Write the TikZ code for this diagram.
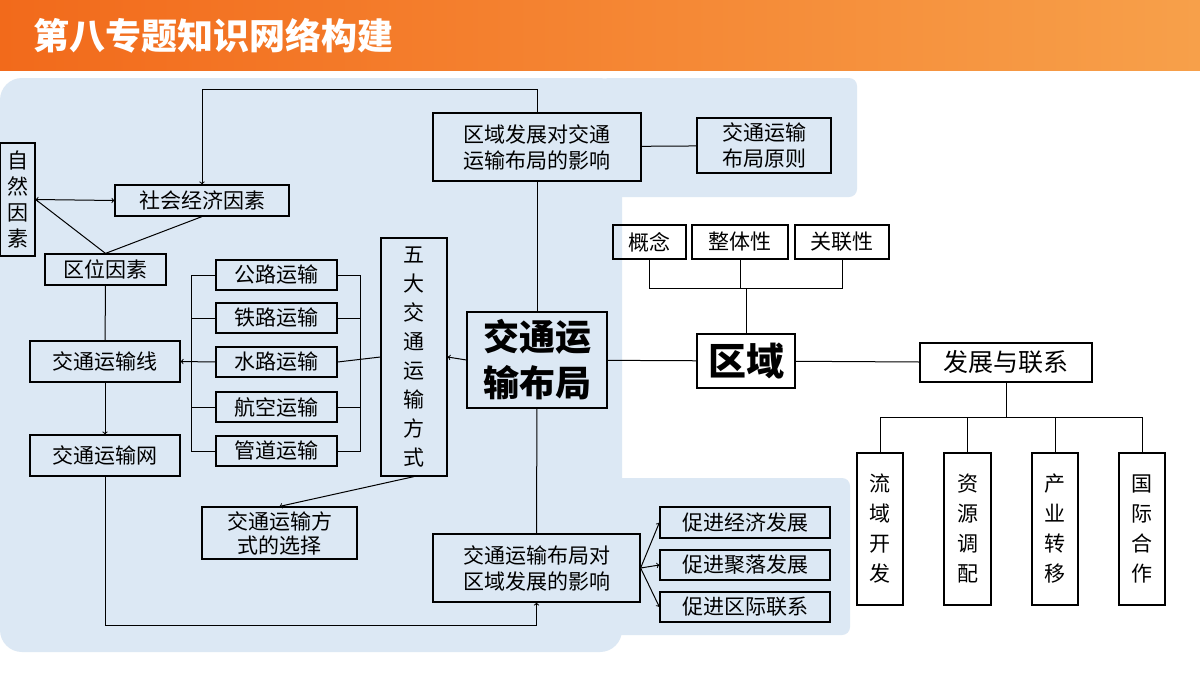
\documentclass[tikz,border=0pt]{standalone}
\usepackage{fontspec}
\setmainfont{Noto Sans CJK SC}
\usetikzlibrary{calc}
\tikzset{>=to}
\definecolor{panel}{HTML}{DCE8F4}
\definecolor{barL}{HTML}{F26A1B}
\definecolor{barR}{HTML}{F7A04A}
\tikzstyle{box} = [draw=black, line width=1.2, inner sep=0pt, align=center, font=\fontsize{21}{26}\selectfont]
\tikzstyle{link} = [line width=1, black]
\newcommand{\boxat}[6]{
\node[box, minimum width=#3, minimum height=#4] (#1) at (#2) {#5#6};
}

\begin{document}
\begin{tikzpicture}[x=1pt, y=-1pt]
		% Background
		\useasboundingbox (0,0) rectangle (1200,675);
		\fill[white] (0,0) rectangle (1200,675);
		\shade[left color=barL, right color=barR] (0,0) rectangle (1200,70);
		\node[anchor=west, text=white, font=\fontsize{36}{40}\selectfont\bfseries] (title) at (30,36) {第八专题知识网络构建};
		\fill[panel, rounded corners=22] (0,78) rectangle (622,652);
		\fill[panel, rounded corners=8] (600,78) rectangle (857,197);
		\fill[panel, rounded corners=8] (600,478) rectangle (850,635);
		
		% Boxes
		\boxat{infl}{537,147}{208}{68}{区域发展对交通\\}{运输布局的影响}
		\boxat{prin}{764,145.5}{134}{55}{交通运输\\}{布局原则}
		\boxat{nat}{17.5,199.5}{35}{113}{自\\然\\因\\}{素}
		\boxat{soc}{202,200.5}{174}{31}{社会经济因素}{}
		\boxat{loc}{105.5,269.5}{121}{31}{区位因素}{}
		\boxat{road}{276.5,275}{121}{30}{公路运输}{}
		\boxat{rail}{276.5,318}{121}{30}{铁路运输}{}
		\boxat{water}{276.5,362}{121}{30}{水路运输}{}
		\boxat{air}{276.5,407}{121}{30}{航空运输}{}
		\boxat{pipe}{276.5,451}{121}{30}{管道运输}{}
		\node[box, minimum width=66, minimum height=238, font=\fontsize{21}{29}\selectfont] (five) at (414,357) {五\\大\\交\\通\\运\\输\\方\\式};
		\node[box, minimum width=140, minimum height=96, font=\fontsize{36}{46}\selectfont\bfseries] (layout) at (537,360) {交通运\\输布局};
		\boxat{line}{105,361.5}{150}{41}{交通运输线}{}
		\boxat{net}{105,455.5}{150}{41}{交通运输网}{}
		\node[box, minimum width=155, minimum height=52, font=\fontsize{21}{24}\selectfont] (choice) at (279.5,533) {交通运输方\\式的选择};
		\boxat{effect}{536.5,568}{207}{68}{交通运输布局对\\}{区域发展的影响}
		\boxat{econ}{745,522.5}{170}{31}{促进经济发展}{}
		\boxat{settle}{745,565}{170}{30}{促进聚落发展}{}
		\boxat{inter}{745,607}{170}{30}{促进区际联系}{}
		\boxat{concept}{649.5,242}{73}{34}{概念}{}
		\boxat{whole}{740,242}{96}{34}{整体性}{}
		\boxat{assoc}{842,242}{94}{34}{关联性}{}
		\node[box, minimum width=98, minimum height=54, font=\fontsize{38}{42}\selectfont\bfseries] (region) at (746,361) {区域};
		\node[box, minimum width=172, minimum height=39, font=\fontsize{25}{30}\selectfont] (dev) at (1006,362.5) {发展与联系};
		\node[box, minimum width=46, minimum height=152, font=\fontsize{21}{30}\selectfont] (basin) at (880,529) {流\\域\\开\\发};
		\node[box, minimum width=47, minimum height=152, font=\fontsize{21}{30}\selectfont] (res) at (967.5,529) {资\\源\\调\\配};
		\node[box, minimum width=46, minimum height=152, font=\fontsize{21}{30}\selectfont] (ind) at (1055,529) {产\\业\\转\\移};
		\node[box, minimum width=46, minimum height=152, font=\fontsize{21}{30}\selectfont] (intl) at (1142,529) {国\\际\\合\\作};
		
		% Connectors
		\draw[link, ->] (infl.north) -- ++(0,-23) -| (soc.north);
		\draw[link] (infl) -- (prin);
		\draw[link] (layout) -- (infl);
		\draw[link] (layout) -- (effect);
		\draw[link] (loc.north) -- (nat.east);
		\draw[link] (loc.north) -- (soc.south);
		\draw[link, <->] (nat.east) -- (soc.west);
		\draw[link] (loc) -- (line);
		\draw[link, ->] (line) -- (net);
		\draw[link, ->] (net.south) -- ++(0,149) -| (effect.south);
		\foreach \m in {road, rail, air, pipe}
		{
			\draw[link] (\m.west) -- ++(-24,0);
			\draw[link] (\m.east) -- ++(23,0);
		}
		\draw[link] ($(road.west)+(-24,0)$) -- ($(pipe.west)+(-24,0)$);
		\draw[link] ($(road.east)+(23,0)$) -- ($(pipe.east)+(23,0)$);
		\draw[link, ->] (water.west) -- (line.east);
		\draw[link] (water.east) -- (five.west);
		\draw[link, ->] (layout.west) -- (five.east);
		\draw[link, ->] (five.south) -- (choice.north);
		\foreach \m in {econ, settle, inter}
		{
			\draw[link, ->] (effect.east) -- (\m.west);
		}
		\draw[link] (region) -- (layout);
		\draw[link] (region.north) -- ++(0,-45) coordinate (rt);
		\draw[link] (concept.south) |- (rt) -| (assoc.south);
		\draw[link] (whole.south) -- (whole.south |- rt);
		\draw[link] (region) -- (dev);
		\draw[link] (dev.south) -- ++(0,35) coordinate (dt);
		\draw[link] (basin.north) |- (dt) -| (intl.north);
		\draw[link] (res.north) -- (res.north |- dt);
		\draw[link] (ind.north) -- (ind.north |- dt);
	\end{tikzpicture}
\end{document}
